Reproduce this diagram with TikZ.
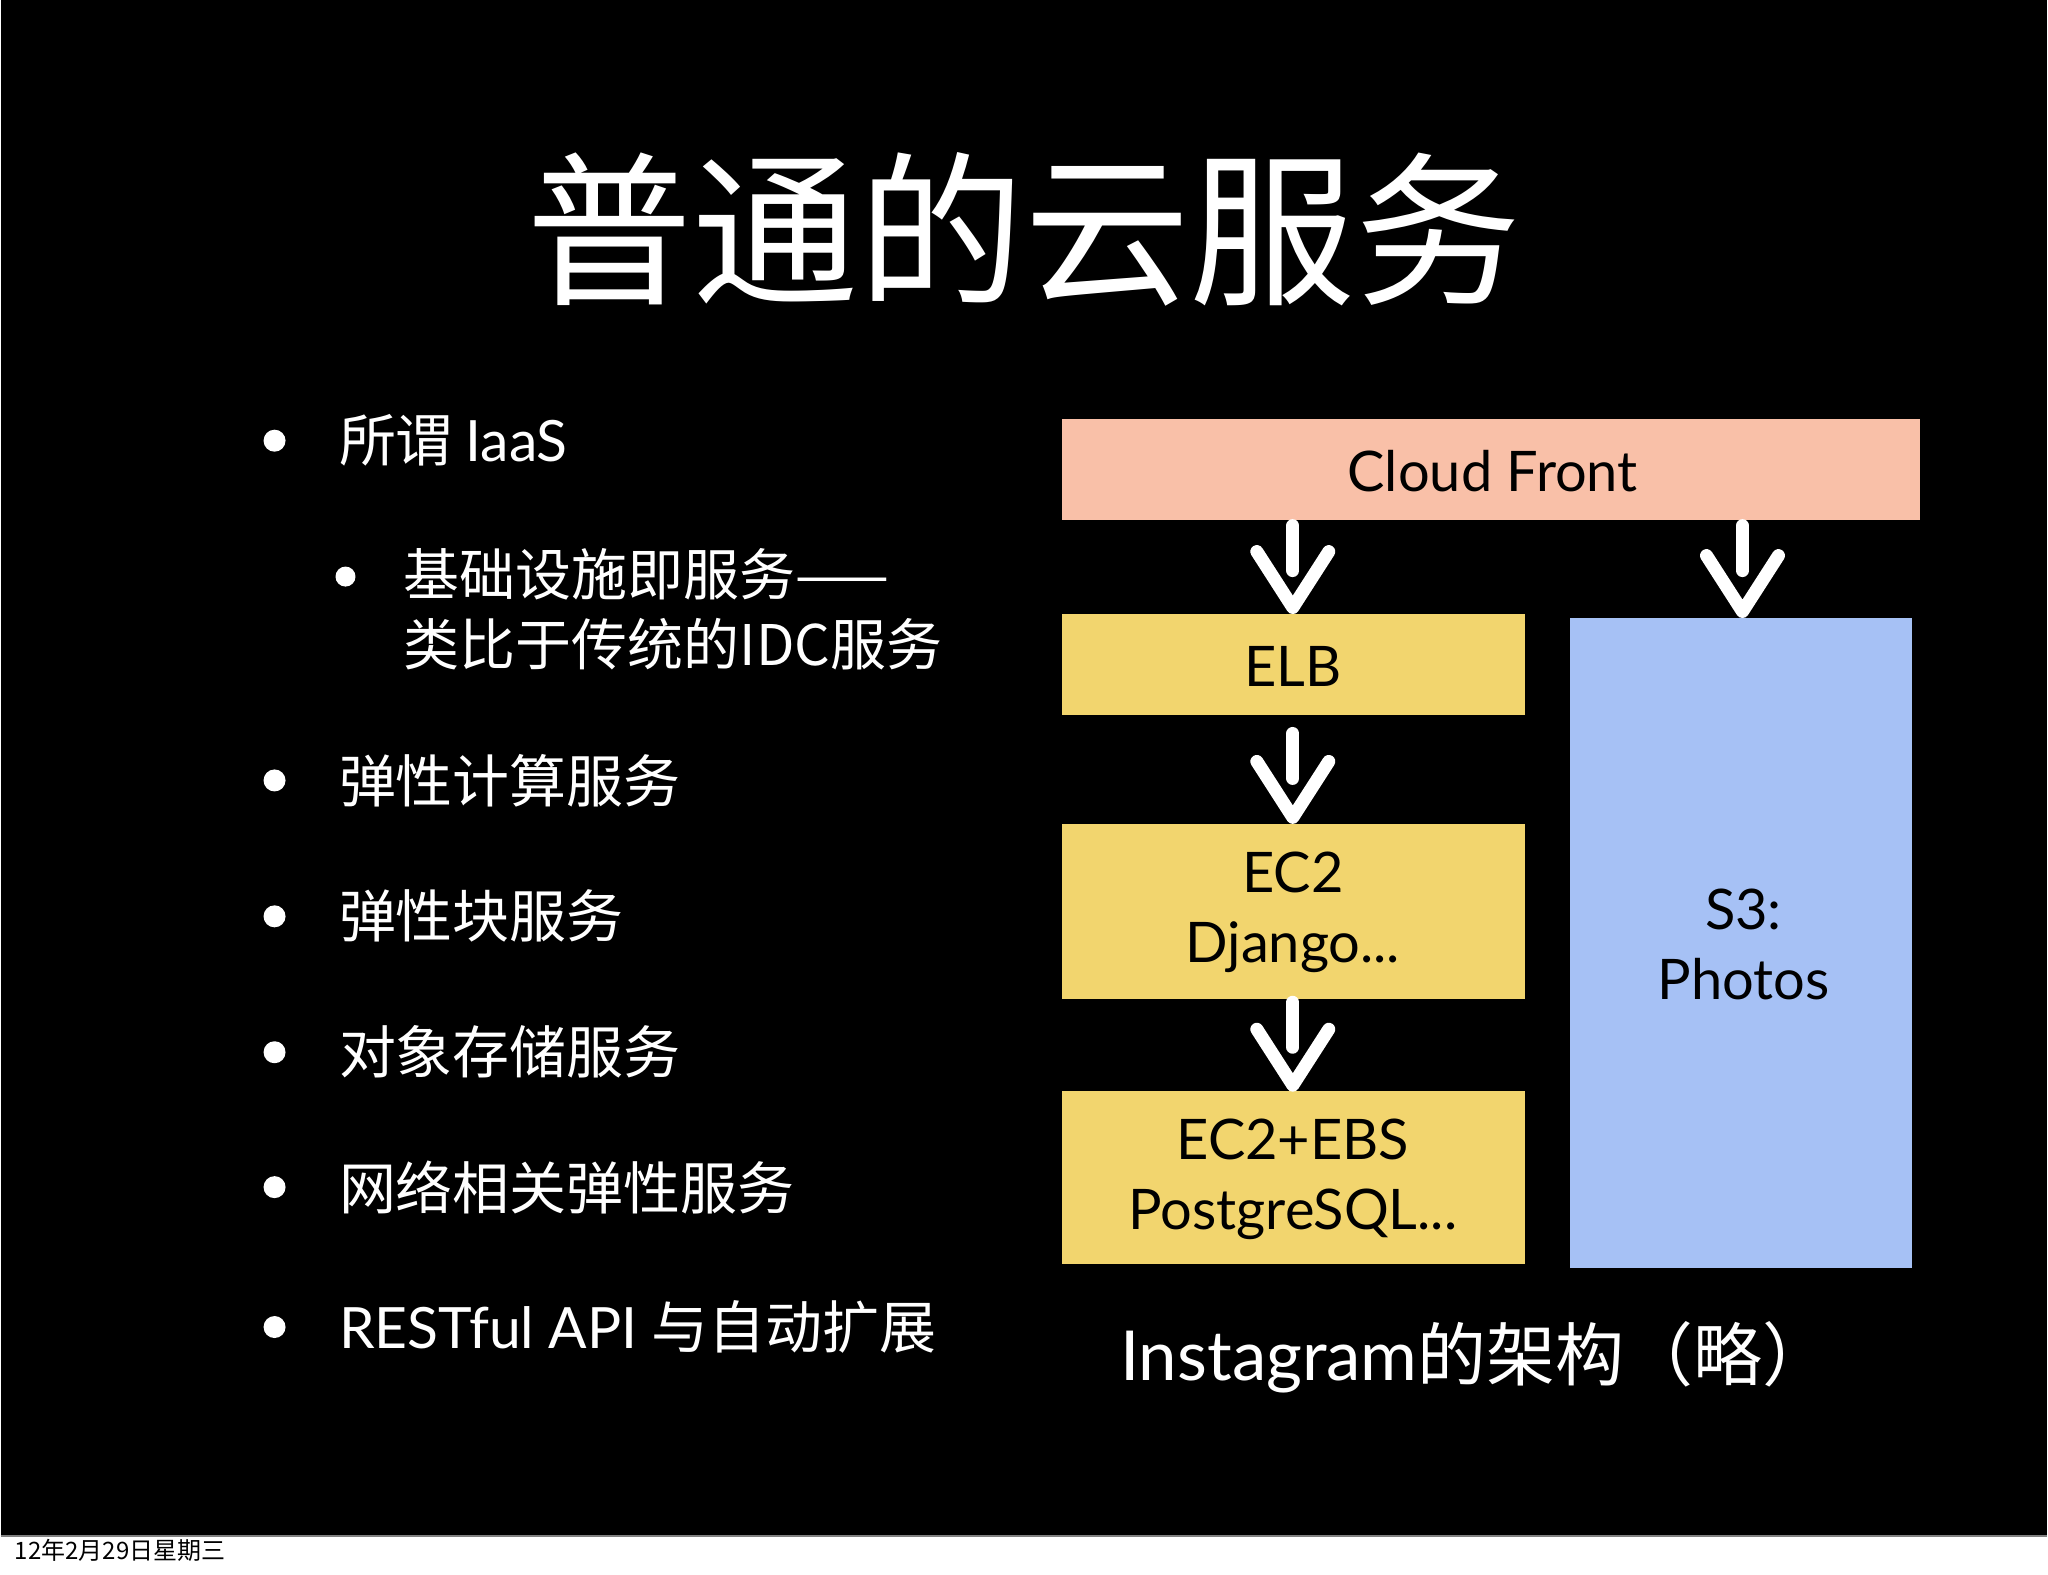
\documentclass[tikz,border=0pt]{standalone}
\usepackage{fontspec}
\setmainfont{Lato}
\newfontfamily\cjk{Noto Sans CJK SC}
\begin{document}
\begin{tikzpicture}[x=1pt,y=-1pt,
  box/.style={draw=none,anchor=north west,inner sep=0},
  btxt/.style={font=\fontsize{56}{70}\selectfont,text=black,align=center},
  item/.style={anchor=west,text=white,font=\fontsize{57}{70}\selectfont},
  dotb/.style={circle,fill=white,inner sep=0,minimum size=22},
  arr/.style={draw=white,line width=13,line cap=round,line join=round}]
\fill[white] (0,0) rectangle (2048,1576);
\fill[black] (0,0) rectangle (2048,1537);
\draw[gray,line width=1.5] (0,1537) -- (2048,1537);
\node[text=white,font=\cjk\fontsize{166}{175}\selectfont] (title) at (1024,230) {普通的云服务};
% bullets
\foreach \y/\t/\n in {441/{\cjk 所谓 }IaaS/a,781/{\cjk 弹性计算服务}/c,917/{\cjk 弹性块服务}/d,1053/{\cjk 对象存储服务}/e,1188/{\cjk 网络相关弹性服务}/f,1328/RESTful API {\cjk 与自动扩展}/g}{
  \node[dotb] (d\n) at (274,\y) {};
  \node[item] (t\n) at (335,\y) {\t};
}
\node[dotb,minimum size=20] (db) at (345,577) {};
\node[item,anchor=north west,align=left,font=\cjk\fontsize{56}{70}\selectfont] (tb) at (400,545) {基础设施即服务——\\类比于传统的IDC服务};
% boxes
\fill[fill={rgb,255:red,249;green,192;blue,168}] (1062,419) rectangle (1921,520);
\node[btxt] (cf) at (1493,471) {Cloud Front};
\fill[fill={rgb,255:red,242;green,213;blue,110}] (1062,614) rectangle (1525,716);
\node[btxt] (elb) at (1293,667) {ELB};
\fill[fill={rgb,255:red,242;green,213;blue,110}] (1062,825) rectangle (1525,1000);
\node[btxt] (ec2) at (1293,913) {EC2\\Django...};
\fill[fill={rgb,255:red,242;green,213;blue,110}] (1062,1092) rectangle (1525,1265);
\node[btxt] (ebs) at (1293,1180) {EC2+EBS\\PostgreSQL...};
\fill[fill={rgb,255:red,166;green,193;blue,245}] (1570,618) rectangle (1913,1269);
\node[btxt] (s3) at (1744,945) {S3:\\Photos};
% arrows
\foreach \x/\a/\b in {1293/526/608,1293/734/818,1293/1003/1086,1743/526/612}{
  \draw[arr] (\x,\a) -- (\x,\a+45);
  \draw[arr] (\x-36,\b-56) -- (\x,\b) -- (\x+36,\b-56);
}
\node[text=white,font=\fontsize{69}{80}\selectfont] (cap) at (1476,1358) {Instagram{\cjk 的架构（略）}};
\node[anchor=west,text=black,font=\cjk\fontsize{24}{28}\selectfont,inner sep=0] (foot) at (14,1552) {12年2月29日星期三};
\end{tikzpicture}
\end{document}
